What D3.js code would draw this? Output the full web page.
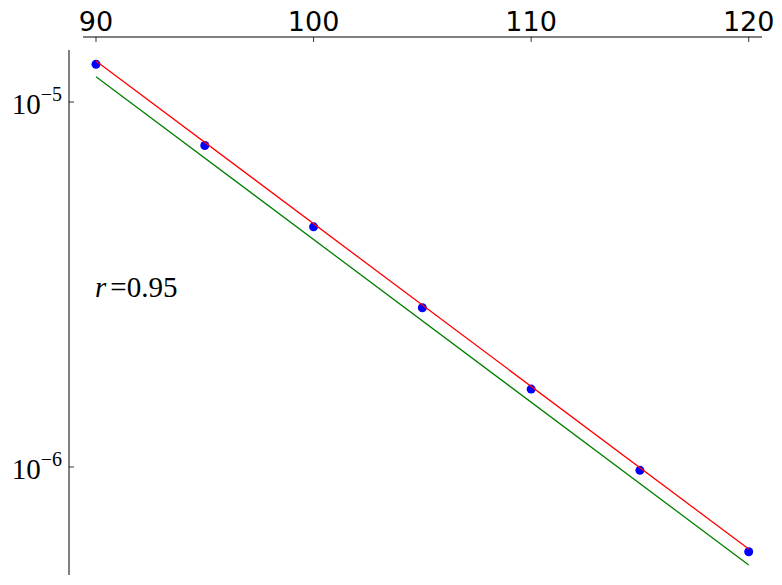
<!DOCTYPE html>
<html>
<head>
<meta charset="utf-8">
<script src="https://cdn.jsdelivr.net/npm/d3@7"></script>
<style>
  html, body { margin: 0; padding: 0; background: #fff; }
  svg { display: block; }
</style>
</head>
<body>
<svg id="chart" width="782" height="585"></svg>
<script>
// ---- data ----
const xValues = [90, 95, 100, 105, 110, 115, 120];
const yValues = [1.269e-5, 7.60e-6, 4.55e-6, 2.73e-6, 1.635e-6, 9.79e-7, 5.86e-7];
const fitX = [90, 120];
const fitRed = [1.295e-5, 5.96e-7];
const fitGreen = [1.173e-5, 5.39e-7];
const xTicks = [90, 100, 110, 120];
const yTicks = [1e-5, 1e-6];
const yTickExp = ["\u22125", "\u22126"];
const annotation = { x: 90, y: 3.0e-6, v: "r", eq: "=0.95" };

(function () {
const SANS = "'DejaVu Sans', sans-serif";
const SERIF = "'Liberation Serif', 'DejaVu Serif', 'Times New Roman', serif";
// ---- layout ----
const svg = d3.select("#chart");
const pLeft = 83, pRight = 762, pTop = 50, pBottom = 575;
const x = d3.scaleLinear().domain([89.4025, 120.611]).range([pLeft, pRight]);
const y = d3.scaleLog().domain([Math.pow(10, -4.8575), Math.pow(10, -6.2959)]).range([pTop, pBottom]);

// top axis (offset outward)
const topAxisY = 37;
const gx = svg.append("g").attr("transform", `translate(0,${topAxisY})`);
gx.append("line").attr("x1", pLeft).attr("x2", pRight).attr("y1", 0).attr("y2", 0)
  .attr("stroke", "#000").attr("stroke-width", 1);
gx.selectAll("line.tick").data(xTicks).join("line").attr("class", "tick")
  .attr("x1", d => x(d)).attr("x2", d => x(d)).attr("y1", 0).attr("y2", 5)
  .attr("stroke", "#000").attr("stroke-width", 0.8);
gx.selectAll("text").data(xTicks).join("text")
  .style("font-family", SANS).style("font-size", "27px")
  .attr("x", d => x(d)).attr("y", -6)
  .attr("text-anchor", "middle")
  .text(d => d);

// left axis (offset outward)
const leftAxisX = 69;
const gy = svg.append("g").attr("transform", `translate(${leftAxisX},0)`);
gy.append("line").attr("x1", 0).attr("x2", 0).attr("y1", pTop).attr("y2", pBottom)
  .attr("stroke", "#000").attr("stroke-width", 1);
gy.selectAll("line.tick").data(yTicks).join("line").attr("class", "tick")
  .attr("x1", 0).attr("x2", 5).attr("y1", d => y(d)).attr("y2", d => y(d))
  .attr("stroke", "#000").attr("stroke-width", 0.8);
const yl = gy.selectAll("text").data(yTicks).join("text")
  .style("font-family", SERIF).style("font-size", "29px")
  .attr("x", -7).attr("y", d => y(d) + 12)
  .attr("text-anchor", "end");
yl.append("tspan").text("10");
yl.append("tspan").style("font-size", "20px").attr("dy", -13).text((d, i) => yTickExp[i]);

// points
svg.append("g").selectAll("circle").data(xValues).join("circle")
  .attr("cx", d => x(d)).attr("cy", (d, i) => y(yValues[i])).attr("r", 4.5)
  .attr("fill", "#0000ff");

// fit lines
const line = d3.line().x(d => x(d[0])).y(d => y(d[1]));
svg.append("path").datum(fitX.map((d, i) => [d, fitRed[i]]))
  .attr("d", line).attr("fill", "none").attr("stroke", "#ff0000").attr("stroke-width", 1.3);
svg.append("path").datum(fitX.map((d, i) => [d, fitGreen[i]]))
  .attr("d", line).attr("fill", "none").attr("stroke", "#008000").attr("stroke-width", 1.3);

// annotation
const ann = svg.append("text")
  .style("font-family", SERIF).style("font-size", "29px")
  .attr("x", x(annotation.x) - 1).attr("y", y(annotation.y) + 4);
ann.append("tspan").style("font-style", "italic").text(annotation.v);
ann.append("tspan").attr("dx", 4).text(annotation.eq);
})();
</script>
</body>
</html>
